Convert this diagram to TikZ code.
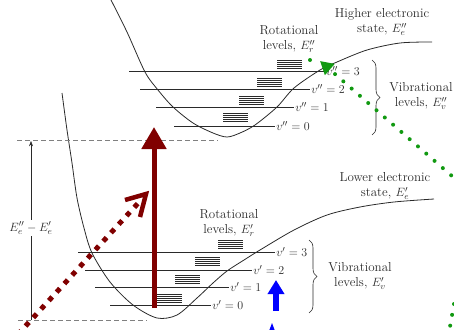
\documentclass[tikz,border=0pt]{standalone}
\usepackage{amsmath, amssymb}
\usetikzlibrary{
	arrows.meta,
	decorations.pathreplacing,
	positioning
}
\definecolor{darkred}{HTML}{800000}
\definecolor{greendot}{HTML}{119911}
\definecolor{inkgray}{HTML}{2A2A2A}
\newcommand{\labfont}{\fontsize{13}{15.5}\selectfont}

\begin{document}
\begin{tikzpicture}[
	x=1pt, y=-1pt,
	>=Stealth,
	curve/.style={inkgray, line width=0.8pt},
	vlevel/.style={inkgray, line width=0.7pt},
	rotline/.style={inkgray, line width=0.5pt},
	dashline/.style={gray, line width=0.5pt, dash pattern=on 5pt off 3pt},
	lbl/.style={font=\labfont, text=inkgray, align=center, inner sep=1pt},
	vlbl/.style={font=\labfont, text=inkgray, inner sep=1pt, right},
	vbrace/.style={inkgray, line width=0.6pt, decorate, decoration={brace, amplitude=8pt}},
	bigarrow/.style={darkred, line width=5pt, -{Triangle[width=24pt, length=22pt]}},
	redtrail/.style={darkred, line width=5pt, dash pattern=on 5pt off 6.5pt},
	redhead/.style={darkred, line width=4.5pt, line join=miter},
	greentrail/.style={greendot, line width=4pt, line cap=round, dash pattern=on 0pt off 11pt},
	bluearrow/.style={blue, line width=6pt, -{Triangle[width=16pt, length=14pt]}}
	]
	
	\useasboundingbox (0,0) rectangle (454,329);
	\clip (0,0) rectangle (454,329);
	
	% Potential energy curves
	\draw[curve] plot[smooth] coordinates {(110,-2) (127,32) (145,72) (158,90) (173,107)
		(193,123) (213,133) (227,137) (240,133) (255,125) (277,107) (294,88) (320,70)
		(337,62) (367,50) (400,43) (432,42)};
	\draw[curve] plot[smooth] coordinates {(62,93) (67,130) (72,163) (77,198) (84,228)
		(92,253) (110,282) (133,305) (157,318) (177,315) (197,298) (213,283) (227,271)
		(244,260) (260,250) (294,230) (327,215) (360,207) (394,202) (434,199)};
	
	% Dashed reference lines
	\draw[dashline] (17,140) -- (218,140);
	\draw[dashline] (18,320) -- (147,320);
	
	% Vibrational levels of the higher state
	\draw[vlevel] (129,71) -- (325,71) node[vlbl] (up3) {$v''=3$};
	\draw[vlevel] (140,89) -- (310,89) node[vlbl] (up2) {$v''=2$};
	\draw[vlevel] (156,107) -- (294,107) node[vlbl] (up1) {$v''=1$};
	\draw[vlevel] (174,126) -- (275,126) node[vlbl] (up0) {$v''=0$};
	
	% Vibrational levels of the lower state
	\draw[vlevel] (78,252) -- (275,252) node[vlbl] (lo3) {$v'=3$};
	\draw[vlevel] (85,270) -- (252,270) node[vlbl] (lo2) {$v'=2$};
	\draw[vlevel] (95,287) -- (229,287) node[vlbl] (lo1) {$v'=1$};
	\draw[vlevel] (110,305) -- (211,305) node[vlbl] (lo0) {$v'=0$};
	
	% Rotational stacks
	\foreach \x/\y in {277/60, 257/78, 239/96, 223/113, 218/240, 195/257, 175/275, 157/294}
		\foreach \k in {0,...,4}
			\draw[rotline] (\x,\y+2*\k) -- ++(25,0);
	
	% Braces
	\draw[vbrace] (372,60) -- (372,135);
	\draw[vbrace] (309,240) -- (309,313);
	
	% Labels
	\node[lbl] (hiState) at (382,22) {Higher electronic\\ state, $E_e''$};
	\node[lbl] (hiRot)   at (289,39) {Rotational\\ levels, $E_r''$};
	\node[lbl] (hiVib)   at (421,96) {Vibrational\\ levels, $E_v''$};
	\node[lbl] (loState) at (385,186) {Lower electronic\\ state, $E_e'$};
	\node[lbl] (loRot)   at (229,223) {Rotational\\ levels, $E_r'$};
	\node[lbl] (loVib)   at (360,276) {Vibrational\\ levels, $E_v'$};
	
	% Energy gap
	\coordinate (gapTop) at (31,141);
	\coordinate (gapBot) at (31,320);
	\draw[inkgray, line width=0.5pt, ->] (gapBot) -- (gapTop);
	\node[lbl, fill=white, inner sep=2pt] (gap) at (31,228) {$E_e''-E_e'$};
	
	% Highlight arrows
	\coordinate (absBot) at (154,308);
	\coordinate (absTop) at (154,127);
	\draw[bigarrow] (absBot) -- (absTop);
	
	\coordinate (redStart) at (10,343);
	\coordinate (redTip) at (146,194);
	\draw[redtrail] (redStart) -- (141,200);
	\draw[redhead] (redTip) ++(-21,6) -- (redTip) -- ++(-6,23);
	
	\coordinate (greenStart) at (476,197);
	\coordinate (greenTip) at (320,61);
	\draw[greentrail, -{Triangle[width=14pt, length=13pt]}] (greenStart) -- (greenTip);
	\fill[greendot] (310,60) circle (2pt);
	\draw[greentrail] (454,304) -- (448,338);
	
	\coordinate (blueBot) at (276,311);
	\coordinate (blueTip) at (276,280);
	\draw[bluearrow] (blueBot) -- (blueTip);
	\fill[blue] (272,323) -- (275,331) -- (269,331) -- cycle;
\end{tikzpicture}
\end{document}
